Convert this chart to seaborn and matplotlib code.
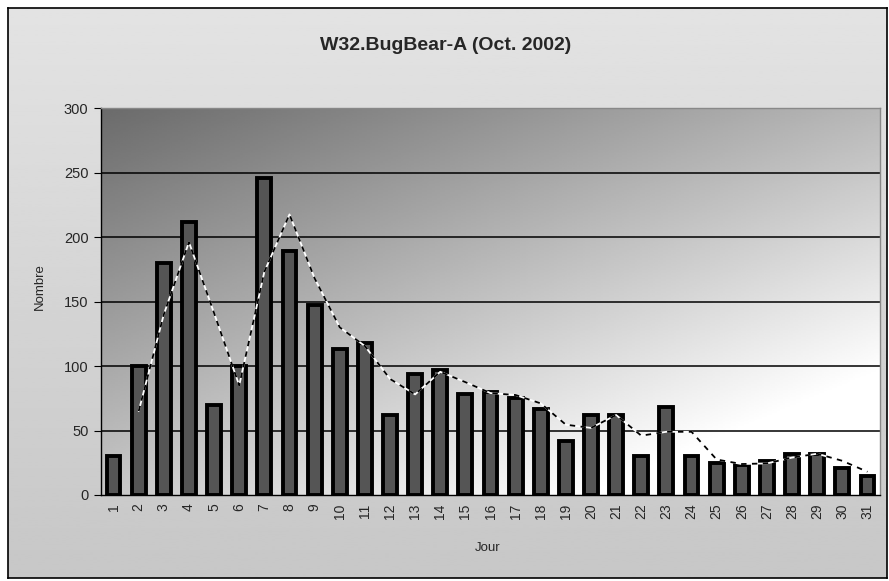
import numpy as np
import pandas as pd
import matplotlib
matplotlib.use("Agg")
import matplotlib.pyplot as plt
import seaborn as sns

# === Data ===
jours = [str(d) for d in range(1, 32)]
nombre = [30, 100, 180, 212, 70, 100, 246, 189, 147, 113, 118, 62, 94, 97, 78, 80,
          75, 67, 42, 62, 62, 30, 68, 30, 25, 23, 26, 32, 32, 21, 15]

df = pd.DataFrame({"Jour": jours, "Nombre": nombre})
# moving average over 2 periods (Excel-style trendline)
df["Moyenne"] = df["Nombre"].rolling(2).mean()
df["pos"] = np.arange(len(df))

sns.set_theme(style="white")
plt.rcParams['font.family'] = ['Liberation Sans', 'DejaVu Sans']

fig = plt.figure(figsize=(8.89, 5.81), dpi=100)
fig.patch.set_facecolor("white")

# === Outer chart area with light gradient and frame ===
bg = fig.add_axes([8 / 889, 3 / 581, 879 / 889, 570 / 581])
vgrad = np.linspace(0.78, 0.89, 256).reshape(-1, 1)
bg.imshow(vgrad, aspect="auto", cmap="gray", vmin=0, vmax=1,
          extent=[0, 1, 0, 1], origin="lower")
bg.set_xticks([])
bg.set_yticks([])
for s in bg.spines.values():
    s.set_color("black")
    s.set_linewidth(1.2)

# === Plot area ===
ax = fig.add_axes([101 / 889, 1 - 495 / 581, 779 / 889, 387 / 581])
xx, yy = np.meshgrid(np.linspace(0, 1, 300), np.linspace(0, 1, 200))
grad = np.clip(0.42 + 0.30 * xx + 0.36 * (1 - yy) + 0.05 * xx * (1 - yy), 0, 1)
ax.imshow(grad, aspect="auto", cmap="gray", vmin=0, vmax=1,
          extent=[-0.5, 30.5, 300, 0], zorder=0)

for y in range(50, 300, 50):
    ax.axhline(y, color="black", lw=1.1, zorder=1)

sns.barplot(data=df, x="pos", y="Nombre", color="#555555", width=0.55,
            edgecolor="black", linewidth=2.8, saturation=1, ax=ax,
            native_scale=True, zorder=2)

sns.lineplot(data=df, x="pos", y="Moyenne", color="white", lw=1.3, ax=ax, zorder=3)
sns.lineplot(data=df, x="pos", y="Moyenne", color="black", lw=1.3, ax=ax, zorder=4,
             dashes=False, linestyle=(0, (3, 3)))

ax.set_xlim(-0.5, 30.5)
ax.set_ylim(0, 300)
ax.set_yticks(range(0, 301, 50))
ax.set_xticks(df["pos"])
ax.set_xticklabels(jours, rotation=90, fontsize=10)
ax.set_xticks(np.arange(-0.5, 31, 1), minor=True)
ax.tick_params(axis="x", which="major", length=0, pad=6)
ax.tick_params(axis="x", which="minor", length=4, width=0.8, color="black", direction="out")
ax.tick_params(axis="y", length=5, width=0.8, color="black", direction="out",
               labelsize=10.5, left=True, pad=4)
ax.set_xlabel("")
ax.set_ylabel("")
for s in ["left", "bottom"]:
    ax.spines[s].set_color("black")
    ax.spines[s].set_linewidth(1.0)
for s in ["top", "right"]:
    ax.spines[s].set_color("#888888")
    ax.spines[s].set_linewidth(1.0)

fig.text(0.5 + 1 / 889, 1 - 45 / 581, "W32.BugBear-A (Oct. 2002)", ha="center",
         va="center", fontsize=14, fontweight="bold")
fig.text(40 / 889, 1 - 287 / 581, "Nombre", rotation=90, ha="center", va="center",
         fontsize=9.5)
fig.text(488 / 889, 1 - 548 / 581, "Jour", ha="center", va="center", fontsize=9.5)

fig.savefig("out.png", dpi=100)
